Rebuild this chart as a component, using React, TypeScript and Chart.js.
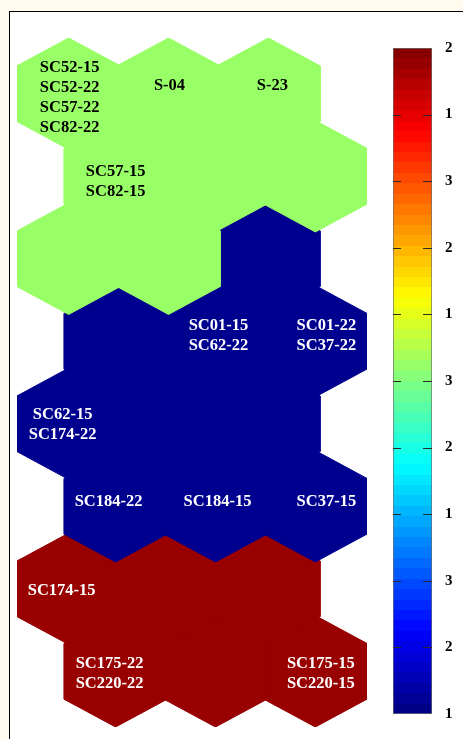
import React, { useEffect, useRef } from "react";
import { Chart, registerables } from "chart.js";

Chart.register(...registerables);

// Node values on the colour scale (0 = bottom of the bar, 1 = top), one array per map row, top row first.
const row0 = [0.525, 0.525, 0.525];
const row1 = [0.525, 0.525, 0.525];
const row2 = [0.525, 0.525, 0.015];
const row3 = [0.015, 0.015, 0.015];
const row4 = [0.015, 0.015, 0.015];
const row5 = [0.015, 0.015, 0.015];
const row6 = [0.975, 0.975, 0.975];
const row7 = [0.975, 0.975, 0.975];
const mapRows = [row0, row1, row2, row3, row4, row5, row6, row7];

// Samples mapped to each node
const nodeSamples: { row: number; col: number; names: string[] }[] = [
  { row: 0, col: 0, names: ["SC52-15", "SC52-22", "SC57-22", "SC82-22"] },
  { row: 0, col: 1, names: ["S-04"] },
  { row: 0, col: 2, names: ["S-23"] },
  { row: 1, col: 0, names: ["SC57-15", "SC82-15"] },
  { row: 3, col: 1, names: ["SC01-15", "SC62-22"] },
  { row: 3, col: 2, names: ["SC01-22", "SC37-22"] },
  { row: 4, col: 0, names: ["SC62-15", "SC174-22"] },
  { row: 5, col: 0, names: ["SC184-22"] },
  { row: 5, col: 1, names: ["SC184-15"] },
  { row: 5, col: 2, names: ["SC37-15"] },
  { row: 6, col: 0, names: ["SC174-15"] },
  { row: 7, col: 0, names: ["SC175-22", "SC220-22"] },
  { row: 7, col: 2, names: ["SC175-15", "SC220-15"] },
];

// Colour bar
const colorbarTicks = [0, 0.1, 0.2, 0.3, 0.4, 0.5, 0.6, 0.7, 0.8, 0.9, 1];
const colorbarTickLabels = ["1", "2", "3", "1", "2", "3", "1", "2", "3", "1", "2"];

// Hexagon geometry (x: one column per unit, y: one row per unit)
const ROW_SHIFT = 0.47;
const HALF_W = 0.517;
const PEAK = 0.675;
const SHOULDER = 0.3375;
const LINE_H = 20;
const LABEL_FONT = 'bold 16.5px "Liberation Serif", "Times New Roman", serif';

// Small text offsets (px) so labels sit where they read best inside each node
const labelNudge: Record<string, [number, number]> = {
  "0,0": [1, 4.5],
  "0,1": [1, -7.5],
  "0,2": [4, -7.5],
  "1,0": [0, 5.5],
  "3,1": [3, -6],
  "3,2": [11, -6],
  "4,0": [-6, 0.5],
  "5,0": [-7, -4.5],
  "5,1": [2, -4.5],
  "5,2": [11, -4.5],
  "6,0": [-7, 2],
  "7,0": [-6, 2.5],
  "7,2": [5.5, 2.5],
};

function jetRGB(f: number): [number, number, number] {
  const c = (v: number) => Math.round(255 * Math.max(0, Math.min(1, 1.5 - Math.abs(v))));
  return [c(4 * f - 3), c(4 * f - 2), c(4 * f - 1)];
}
function jet(f: number): string {
  const [r, g, b] = jetRGB(f);
  return `rgb(${r},${g},${b})`;
}

function nodeCenter(row: number, col: number) {
  return { x: col + (row % 2 ? ROW_SHIFT : 0), y: row };
}

function hexagon(row: number, col: number) {
  const { x, y } = nodeCenter(row, col);
  return [
    { x, y: y - PEAK },
    { x: x + HALF_W, y: y - SHOULDER },
    { x: x + HALF_W, y: y + SHOULDER },
    { x, y: y + PEAK },
    { x: x - HALF_W, y: y + SHOULDER },
    { x: x - HALF_W, y: y - SHOULDER },
    { x, y: y - PEAK },
  ];
}

const sampleLabels = {
  id: "sampleLabels",
  afterDatasetsDraw(chart: any) {
    const { ctx, scales } = chart;
    ctx.save();
    ctx.font = LABEL_FONT;
    ctx.textAlign = "center";
    ctx.textBaseline = "middle";
    for (const node of nodeSamples) {
      const c = nodeCenter(node.row, node.col);
      const [dx, dy] = labelNudge[`${node.row},${node.col}`] || [0, 0];
      const px = scales.x.getPixelForValue(c.x) + dx;
      const py = scales.y.getPixelForValue(c.y) + dy;
      const [r, g, b] = jetRGB(mapRows[node.row][node.col]);
      const lum = (0.299 * r + 0.587 * g + 0.114 * b) / 255;
      ctx.fillStyle = lum > 0.5 ? "#000000" : "#ffffff";
      const top = py - ((node.names.length - 1) * LINE_H) / 2;
      node.names.forEach((name, i) => ctx.fillText(name, px, top + i * LINE_H));
    }
    ctx.restore();
  },
};

const colorbarDashes = {
  id: "colorbarDashes",
  afterDatasetsDraw(chart: any) {
    const { ctx, chartArea, scales } = chart;
    ctx.save();
    ctx.strokeStyle = "#2a2a2a";
    ctx.lineWidth = 1;
    scales.y.ticks.forEach((t: any, i: number) => {
      if (i === 0 || i === scales.y.ticks.length - 1) return;
      const y = Math.round(scales.y.getPixelForValue(t.value)) + 0.5;
      ctx.beginPath();
      ctx.moveTo(chartArea.left, y);
      ctx.lineTo(chartArea.left + 8, y);
      ctx.moveTo(chartArea.right - 9, y);
      ctx.lineTo(chartArea.right, y);
      ctx.stroke();
    });
    ctx.restore();
  },
};

function HexMap() {
  const ref = useRef<HTMLCanvasElement>(null);
  useEffect(() => {
    const datasets = mapRows.flatMap((vals, r) =>
      vals.map((v, c) => ({
        data: hexagon(r, c),
        showLine: true,
        fill: "shape",
        backgroundColor: jet(v),
        borderColor: jet(v),
        borderWidth: 1,
        pointRadius: 0,
        tension: 0,
        clip: false,
      }))
    );
    const chart = new Chart(ref.current!, {
      type: "scatter",
      data: { datasets: datasets as any },
      options: {
        animation: false,
        responsive: false,
        events: [],
        layout: { padding: 0 },
        plugins: { legend: { display: false }, tooltip: { enabled: false } },
        scales: {
          x: { type: "linear", display: false, min: -HALF_W, max: 2 + ROW_SHIFT + HALF_W },
          y: { type: "linear", display: false, reverse: true, min: -PEAK, max: 7 + PEAK },
        },
      },
      plugins: [sampleLabels],
    });
    return () => chart.destroy();
  }, []);
  return (
    <canvas
      ref={ref}
      width={350}
      height={689}
      style={{ position: "absolute", left: 17, top: 38, width: 350, height: 689 }}
    />
  );
}

function ColorBar() {
  const ref = useRef<HTMLCanvasElement>(null);
  useEffect(() => {
    const chart = new Chart(ref.current!, {
      type: "bar",
      data: {
        labels: [""],
        datasets: [
          {
            data: [[colorbarTicks[0], colorbarTicks[colorbarTicks.length - 1]]] as any,
            backgroundColor: (ctx: any) => {
              const area = ctx.chart.chartArea;
              if (!area) return "#000";
              const g = ctx.chart.ctx.createLinearGradient(0, area.bottom, 0, area.top);
              const n = 64;
              for (let i = 0; i < n; i++) {
                const col = jet((i + 0.5) / n);
                g.addColorStop(i / n, col);
                g.addColorStop((i + 1) / n, col);
              }
              return g;
            },
            borderColor: "#6e6e6e",
            borderWidth: 1,
            borderSkipped: false,
            barPercentage: 1,
            categoryPercentage: 1,
          },
        ],
      },
      options: {
        animation: false,
        responsive: false,
        events: [],
        layout: { padding: { top: 10, bottom: 10, left: 0, right: 0 } },
        plugins: { legend: { display: false }, tooltip: { enabled: false } },
        scales: {
          x: { display: false },
          y: {
            position: "right",
            min: 0,
            max: 1,
            afterBuildTicks: (scale: any) => {
              scale.ticks = colorbarTicks.map((v) => ({ value: v }));
            },
            afterFit: (scale: any) => {
              scale.width = 31;
            },
            grid: { display: false, drawTicks: false },
            border: { display: false },
            ticks: {
              autoSkip: false,
              padding: 13,
              color: "#000000",
              font: { family: '"Liberation Serif", "Times New Roman", serif', size: 15, weight: "bold" },
              callback: (_v: any, i: number) => colorbarTickLabels[i],
            },
          },
        },
      },
      plugins: [colorbarDashes],
    });
    return () => chart.destroy();
  }, []);
  return (
    <canvas
      ref={ref}
      width={70}
      height={710}
      style={{ position: "absolute", left: 393, top: 26, width: 70, height: 710 }}
    />
  );
}

export default function App() {
  return (
    <div
      style={{
        position: "fixed",
        left: 0,
        top: 0,
        width: 463,
        height: 739,
        overflow: "hidden",
        background: "#fffbee",
      }}
    >
      <div
        style={{
          position: "absolute",
          left: 9,
          top: 11,
          width: 480,
          height: 760,
          border: "1px solid #000",
          background: "#ffffff",
        }}
      />
      <HexMap />
      <ColorBar />
    </div>
  );
}
